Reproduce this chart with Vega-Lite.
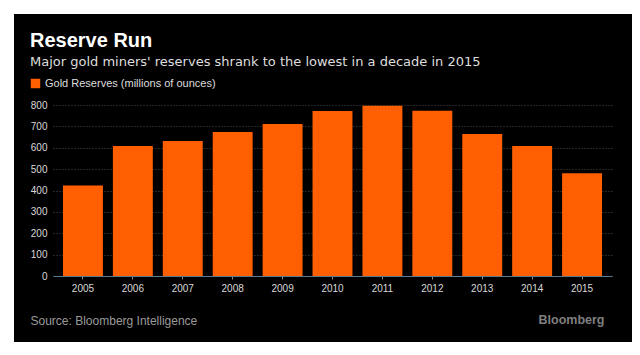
{
  "$schema": "https://vega.github.io/schema/vega-lite/v6.json",
  "width": 618,
  "height": 328,
  "autosize": {"type": "none"},
  "padding": {"left": 14, "top": 14, "right": 8, "bottom": 13},
  "background": "#ffffff",
  "config": {
    "view": {"fill": "#000000", "stroke": null},
    "font": "Liberation Sans"
  },
  "title": {
    "text": "Reserve Run",
    "subtitle": "Major gold miners' reserves shrank to the lowest in a decade in 2015",
    "anchor": "start",
    "frame": "group",
    "orient": "top",
    "dx": 16,
    "offset": -55,
    "font": "Liberation Sans",
    "fontSize": 20,
    "fontWeight": "bold",
    "color": "#ffffff",
    "subtitleFont": "DejaVu Sans",
    "subtitleFontSize": 13,
    "subtitleColor": "#dedede",
    "subtitlePadding": 5
  },
  "data": {
    "values": [
      {"year": "2005", "reserves": 423},
      {"year": "2006", "reserves": 608},
      {"year": "2007", "reserves": 631},
      {"year": "2008", "reserves": 674},
      {"year": "2009", "reserves": 711},
      {"year": "2010", "reserves": 772},
      {"year": "2011", "reserves": 797},
      {"year": "2012", "reserves": 773},
      {"year": "2013", "reserves": 664},
      {"year": "2014", "reserves": 608},
      {"year": "2015", "reserves": 481}
    ]
  },
  "mark": {"type": "bar"},
  "encoding": {
    "x": {
      "field": "year",
      "type": "ordinal",
      "scale": {"range": [39, 598], "paddingInner": 0.2, "paddingOuter": 0.2},
      "axis": {
        "title": "Source: Bloomberg Intelligence",
        "titleAnchor": "start",
        "titleAlign": "left",
        "titleX": 16,
        "titleY": 48,
        "titleBaseline": "alphabetic",
        "titleFont": "Liberation Sans",
        "titleFontSize": 12,
        "titleFontWeight": "normal",
        "titleColor": "#9a9a9a",
        "offset": -66,
        "labelAngle": 0,
        "labelColor": "#d9d9d9",
        "labelFontSize": 10,
        "labelPadding": 4,
        "tickColor": "#8a8a8a",
        "tickSize": 3,
        "domainColor": "#5d7b8f",
        "domainWidth": 1,
        "grid": false
      }
    },
    "y": {
      "field": "reserves",
      "type": "quantitative",
      "scale": {"domain": [0, 800], "range": [262, 91], "nice": false, "zero": true},
      "axis": {
        "title": "Bloomberg",
        "titleAngle": 0,
        "titleAlign": "right",
        "titleX": 557,
        "titleY": 309,
        "titleBaseline": "alphabetic",
        "titleFont": "Liberation Sans",
        "titleFontSize": 12.5,
        "titleFontWeight": "bold",
        "titleColor": "#7f7f7f",
        "offset": -33,
        "values": [0, 100, 200, 300, 400, 500, 600, 700, 800],
        "domain": false,
        "ticks": false,
        "tickSize": 0,
        "labelPadding": 0,
        "labelColor": "#d9d9d9",
        "labelFontSize": 10,
        "grid": true,
        "gridColor": "#4a4a4a",
        "gridDash": [1, 2],
        "gridWidth": 1
      }
    },
    "color": {
      "datum": "Gold Reserves (millions of ounces)",
      "scale": {"range": ["#ff5f00"]},
      "legend": {
        "title": null,
        "orient": "none",
        "legendX": 16,
        "legendY": 64,
        "symbolType": "square",
        "symbolSize": 90,
        "symbolStrokeWidth": 0,
        "labelColor": "#dddddd",
        "labelFontSize": 11,
        "labelFont": "Liberation Sans",
        "labelLimit": 400,
        "padding": 0,
        "labelOffset": 4
      }
    }
  }
}
